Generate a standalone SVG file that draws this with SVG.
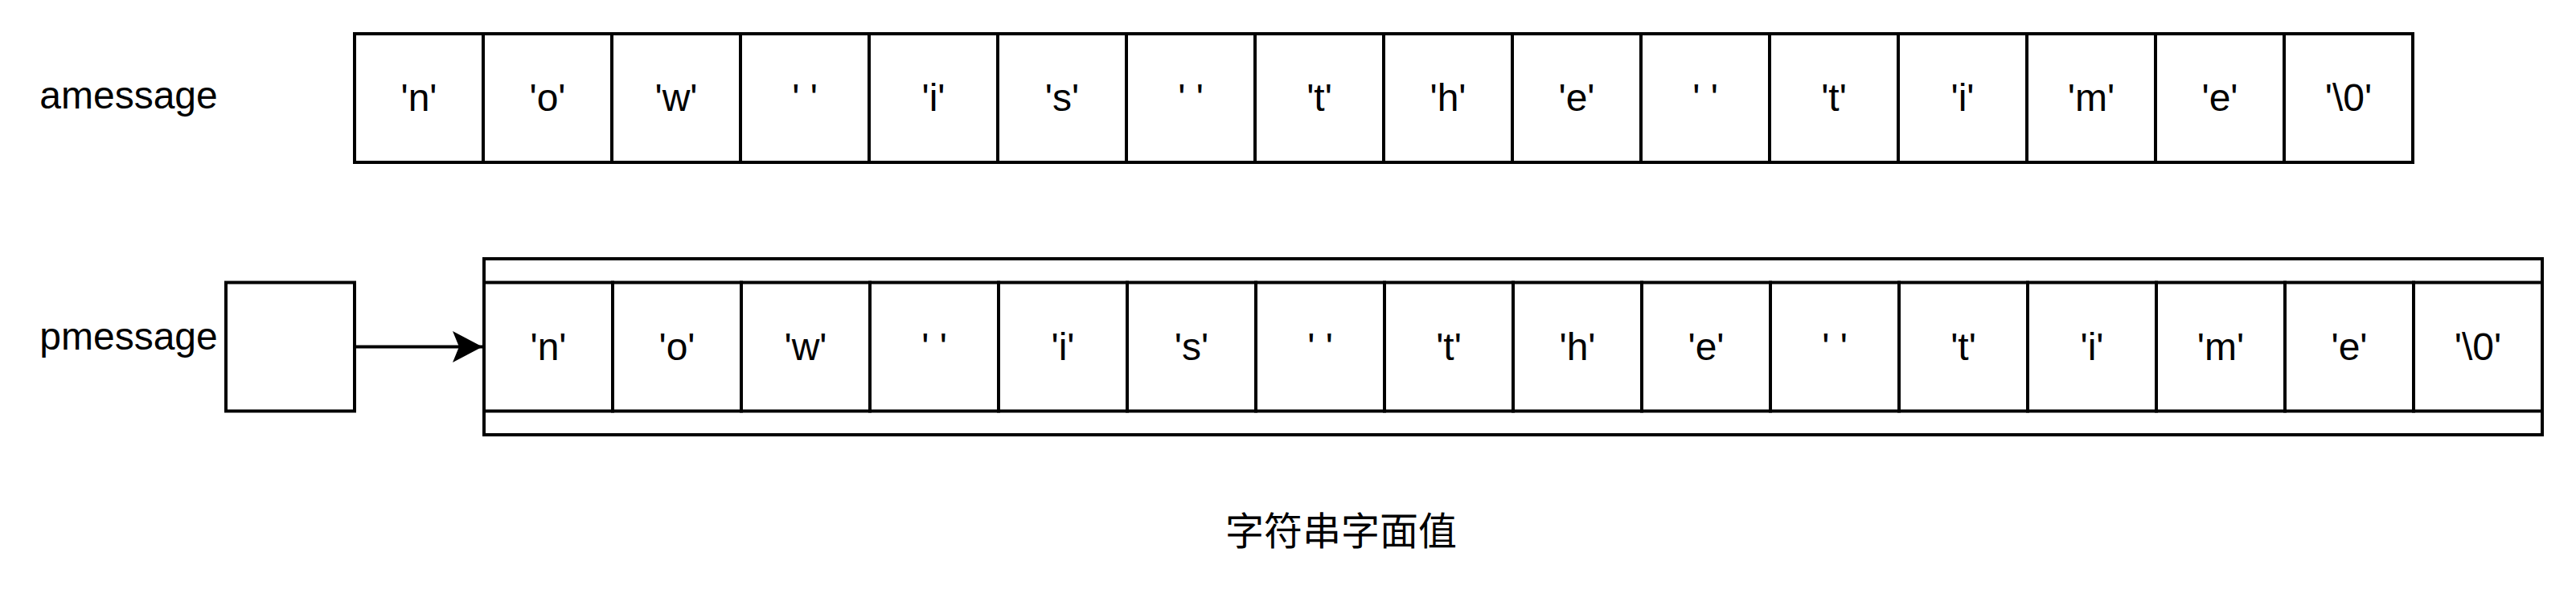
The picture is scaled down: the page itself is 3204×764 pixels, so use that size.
<svg xmlns="http://www.w3.org/2000/svg" width="3204" height="764" viewBox="0 0 3204 764">
<style>
.box{fill:#fff;stroke:#000;stroke-width:4}
.t{font-family:"Liberation Sans",Arial,Helvetica,sans-serif;font-size:48px;fill:#000;text-anchor:middle;white-space:pre}
.cjk{font-family:"Liberation Sans","Noto Sans CJK SC",sans-serif;font-size:48px;fill:#000;text-anchor:middle}
.edge{fill:none;stroke:#000;stroke-width:4}
</style>
<defs>
<marker id="arrow" markerUnits="userSpaceOnUse" viewBox="0 0 40 40" refX="38" refY="20" markerWidth="40" markerHeight="40" orient="auto">
<path d="M38,20 L1,0.5 L9,20 L1,39.5 Z" fill="#000"/>
</marker>
</defs>
<rect width="3204" height="764" fill="#fff"/>
<g id="amessage-label"><text class="t" x="160" y="135">amessage</text></g>
<g id="amessage">
<g id="a0"><rect class="box" x="441" y="42" width="160" height="160"/><text class="t" x="521" y="138">'n'</text></g>
<g id="a1"><rect class="box" x="601" y="42" width="160" height="160"/><text class="t" x="681" y="138">'o'</text></g>
<g id="a2"><rect class="box" x="761" y="42" width="160" height="160"/><text class="t" x="841" y="138">'w'</text></g>
<g id="a3"><rect class="box" x="921" y="42" width="160" height="160"/><text class="t" x="1001" y="138">' '</text></g>
<g id="a4"><rect class="box" x="1081" y="42" width="160" height="160"/><text class="t" x="1161" y="138">'i'</text></g>
<g id="a5"><rect class="box" x="1241" y="42" width="160" height="160"/><text class="t" x="1321" y="138">'s'</text></g>
<g id="a6"><rect class="box" x="1401" y="42" width="160" height="160"/><text class="t" x="1481" y="138">' '</text></g>
<g id="a7"><rect class="box" x="1561" y="42" width="160" height="160"/><text class="t" x="1641" y="138">'t'</text></g>
<g id="a8"><rect class="box" x="1721" y="42" width="160" height="160"/><text class="t" x="1801" y="138">'h'</text></g>
<g id="a9"><rect class="box" x="1881" y="42" width="160" height="160"/><text class="t" x="1961" y="138">'e'</text></g>
<g id="a10"><rect class="box" x="2041" y="42" width="160" height="160"/><text class="t" x="2121" y="138">' '</text></g>
<g id="a11"><rect class="box" x="2201" y="42" width="160" height="160"/><text class="t" x="2281" y="138">'t'</text></g>
<g id="a12"><rect class="box" x="2361" y="42" width="160" height="160"/><text class="t" x="2441" y="138">'i'</text></g>
<g id="a13"><rect class="box" x="2521" y="42" width="160" height="160"/><text class="t" x="2601" y="138">'m'</text></g>
<g id="a14"><rect class="box" x="2681" y="42" width="160" height="160"/><text class="t" x="2761" y="138">'e'</text></g>
<g id="a15"><rect class="box" x="2841" y="42" width="160" height="160"/><text class="t" x="2921" y="138">'\0'</text></g>
</g>
<g id="pmessage-label"><text class="t" x="160" y="435">pmessage</text></g>
<g id="pmessage"><rect class="box" x="281" y="351.5" width="160" height="160"/></g>
<g id="literal">
<rect class="box" x="602" y="322" width="2560" height="219"/>
<g id="b0"><rect class="box" x="602" y="351.5" width="160" height="160"/><text class="t" x="682" y="448">'n'</text></g>
<g id="b1"><rect class="box" x="762" y="351.5" width="160" height="160"/><text class="t" x="842" y="448">'o'</text></g>
<g id="b2"><rect class="box" x="922" y="351.5" width="160" height="160"/><text class="t" x="1002" y="448">'w'</text></g>
<g id="b3"><rect class="box" x="1082" y="351.5" width="160" height="160"/><text class="t" x="1162" y="448">' '</text></g>
<g id="b4"><rect class="box" x="1242" y="351.5" width="160" height="160"/><text class="t" x="1322" y="448">'i'</text></g>
<g id="b5"><rect class="box" x="1402" y="351.5" width="160" height="160"/><text class="t" x="1482" y="448">'s'</text></g>
<g id="b6"><rect class="box" x="1562" y="351.5" width="160" height="160"/><text class="t" x="1642" y="448">' '</text></g>
<g id="b7"><rect class="box" x="1722" y="351.5" width="160" height="160"/><text class="t" x="1802" y="448">'t'</text></g>
<g id="b8"><rect class="box" x="1882" y="351.5" width="160" height="160"/><text class="t" x="1962" y="448">'h'</text></g>
<g id="b9"><rect class="box" x="2042" y="351.5" width="160" height="160"/><text class="t" x="2122" y="448">'e'</text></g>
<g id="b10"><rect class="box" x="2202" y="351.5" width="160" height="160"/><text class="t" x="2282" y="448">' '</text></g>
<g id="b11"><rect class="box" x="2362" y="351.5" width="160" height="160"/><text class="t" x="2442" y="448">'t'</text></g>
<g id="b12"><rect class="box" x="2522" y="351.5" width="160" height="160"/><text class="t" x="2602" y="448">'i'</text></g>
<g id="b13"><rect class="box" x="2682" y="351.5" width="160" height="160"/><text class="t" x="2762" y="448">'m'</text></g>
<g id="b14"><rect class="box" x="2842" y="351.5" width="160" height="160"/><text class="t" x="2922" y="448">'e'</text></g>
<g id="b15"><rect class="box" x="3002" y="351.5" width="160" height="160"/><text class="t" x="3082" y="448">'\0'</text></g>
</g>
<g id="caption"><text class="cjk" x="1668" y="678">字符串字面值</text></g>
<g id="connectors">
<path class="edge" d="M441,431.5 L600,431.5" marker-end="url(#arrow)"/>
</g>
</svg>
